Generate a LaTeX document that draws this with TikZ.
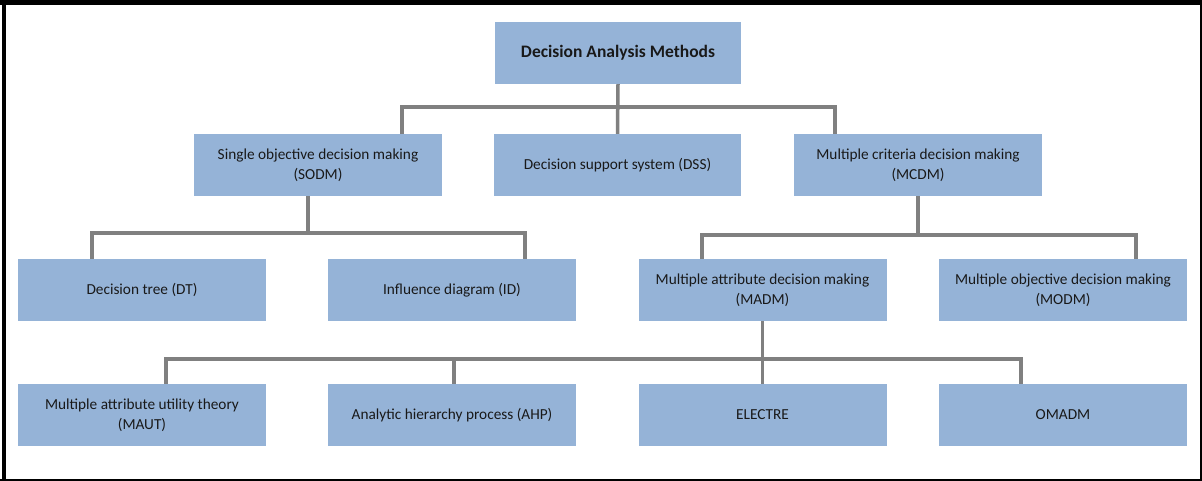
\documentclass[tikz,border=0pt]{standalone}
\usepackage{fontspec}
\setmainfont{Carlito}
\definecolor{boxblue}{RGB}{149,179,215}
\definecolor{linkgray}{RGB}{128,128,128}
\tikzset{
	box/.style={rectangle, fill=boxblue, minimum width=248pt, minimum height=62pt, inner sep=0pt, align=center, text=black!90, font=\fontsize{15.3}{20}\selectfont},
	link/.style={draw=linkgray, line width=3.5pt}
}
\begin{document}
\begin{tikzpicture}[x=1pt,y=-1pt]
\useasboundingbox (0,0) rectangle (1202,481);
% frame
\draw[line width=5pt] (0,2.5) -- (1202,2.5);
\draw[line width=4pt] (4,0) -- (4,481);
\draw[line width=2pt] (1200.5,0) -- (1200.5,481);
\draw[line width=2pt] (0,479.5) -- (1202,479.5);

\node[box, minimum width=246pt, font=\fontsize{17.5}{20}\selectfont\bfseries] (root) at (618,53) {Decision Analysis Methods};

\node[box] (sodm) at (318,165) {Single objective decision making\\(SODM)};
\node[box, minimum width=247pt] (dss) at (617.5,165) {Decision support system (DSS)};
\node[box] (mcdm) at (918,165) {Multiple criteria decision making\\(MCDM)};

\node[box] (dt) at (142,290) {Decision tree (DT)};
\node[box] (id) at (452,290) {Influence diagram (ID)};
\node[box] (madm) at (762.5,290) {Multiple attribute decision making\\(MADM)};
\node[box] (modm) at (1063,290) {Multiple objective decision making\\(MODM)};

\node[box] (maut) at (142,415) {Multiple attribute utility theory\\(MAUT)};
\node[box] (ahp) at (452,415) {Analytic hierarchy process (AHP)};
\node[box] (electre) at (762.5,415) {ELECTRE};
\node[box] (omadm) at (1063,415) {OMADM};

% root
\coordinate (rl) at (402,107);
\coordinate (rr) at (835,107);
\draw[link] (root.south) -- (dss.north);
\draw[link] (rl |- sodm.north) -- (rl) -- (rr) -- (rr |- mcdm.north);

% sodm
\coordinate (sl) at (92,233);
\coordinate (sm) at (308,233);
\coordinate (sr) at (525,233);
\draw[link] (sm |- sodm.south) -- (sm);
\draw[link] (sl |- dt.north) -- (sl) -- (sr) -- (sr |- id.north);

% mcdm
\coordinate (ml) at (702,235);
\coordinate (mr) at (1136,235);
\draw[link] (mcdm.south) -- (mcdm.south |- ml);
\draw[link] (ml |- madm.north) -- (ml) -- (mr) -- (mr |- modm.north);

% madm
\coordinate (al) at (166,359);
\coordinate (ah) at (454,359);
\coordinate (ar) at (1021,359);
\draw[link] (madm.south) -- (electre.north);
\draw[link] (al |- maut.north) -- (al) -- (ar) -- (ar |- omadm.north);
\draw[link] (ah) -- (ah |- ahp.north);
\end{tikzpicture}
\end{document}
